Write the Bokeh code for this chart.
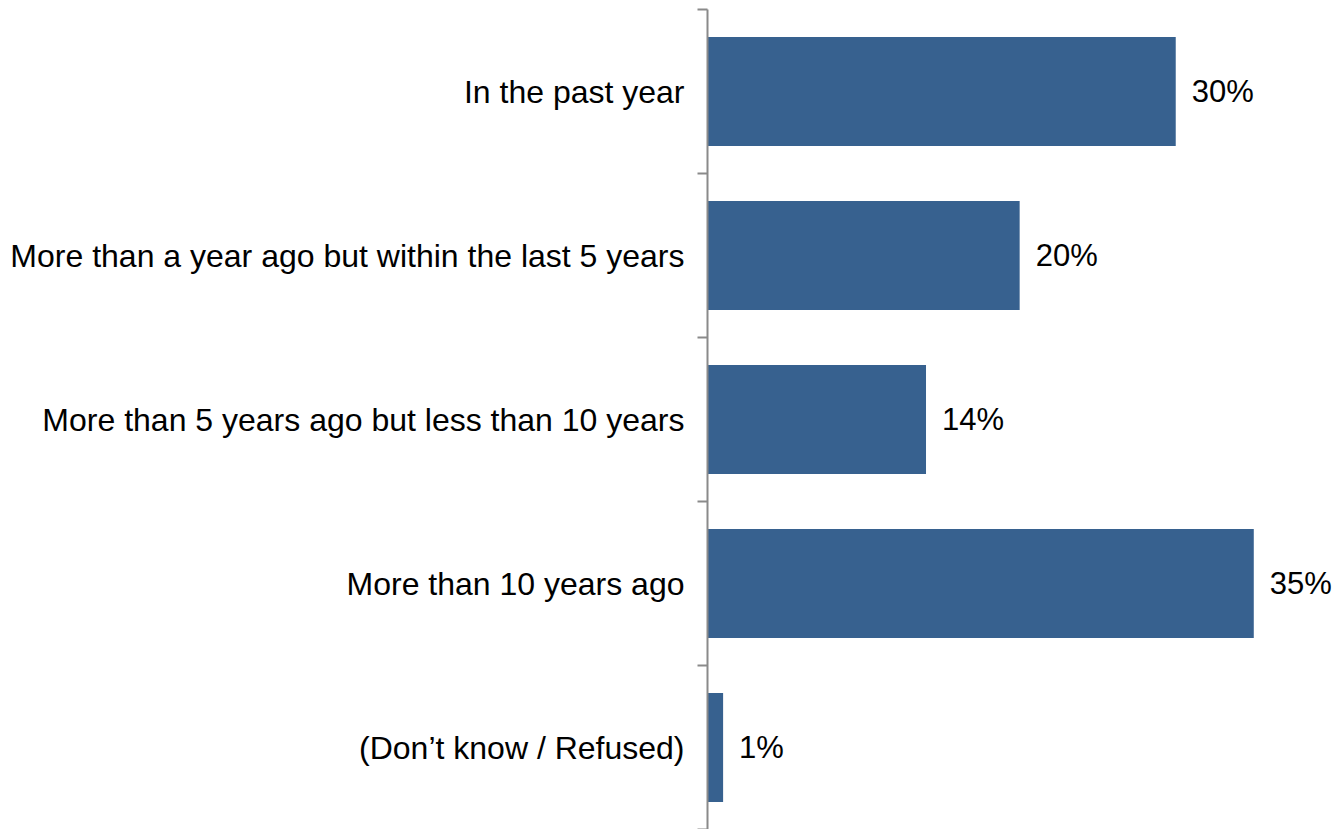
from bokeh.plotting import figure
from bokeh.models import ColumnDataSource, FixedTicker, Range1d
from bokeh.core.properties import value
from bokeh.embed import file_html
from bokeh.resources import INLINE

categories = [
    "In the past year",
    "More than a year ago but within the last 5 years",
    "More than 5 years ago but less than 10 years",
    "More than 10 years ago",
    "(Don\u2019t know / Refused)",
]
values = [30, 20, 14, 35, 1]
value_labels = ["30%", "20%", "14%", "35%", "1%"]

n = len(categories)
ypos = [n - i - 0.5 for i in range(n)]

src = ColumnDataSource(dict(y=ypos, v=values, lab=value_labels, cat=categories))

p = figure(width=1336, height=829, output_backend="svg", toolbar_location=None,
           x_range=Range1d(0, 40.3), y_range=Range1d(0, n),
           min_border_left=707, min_border_right=0, min_border_top=9, min_border_bottom=0)
p.outline_line_color = None
p.grid.grid_line_color = None
p.xaxis.visible = False
p.background_fill_color = "white"

p.hbar(y="y", right="v", left=0, height=0.665, source=src,
       fill_color="#37618F", line_color=None)

p.text(x="v", y="y", text="lab", source=src, x_offset=16,
       text_baseline="middle", text_align="left",
       text_font=value("Liberation Sans"), text_font_size="31px", text_color="#000000")

ax = p.yaxis[0]
ax.ticker = FixedTicker(ticks=ypos, minor_ticks=list(range(n + 1)))
ax.major_label_overrides = {y: c for y, c in zip(ypos, categories)}
ax.major_tick_line_color = None
ax.major_tick_out = 0
ax.major_tick_in = 0
ax.minor_tick_out = 10
ax.minor_tick_in = 0
ax.minor_tick_line_color = "#8a8a8a"
ax.minor_tick_line_width = 2
ax.axis_line_color = "#8a8a8a"
ax.axis_line_width = 2
ax.major_label_standoff = 13
ax.major_label_text_font = "Liberation Sans"
ax.major_label_text_font_size = "32px"
ax.major_label_text_color = "#000000"

open("out.html", "w").write(file_html(p, INLINE))
